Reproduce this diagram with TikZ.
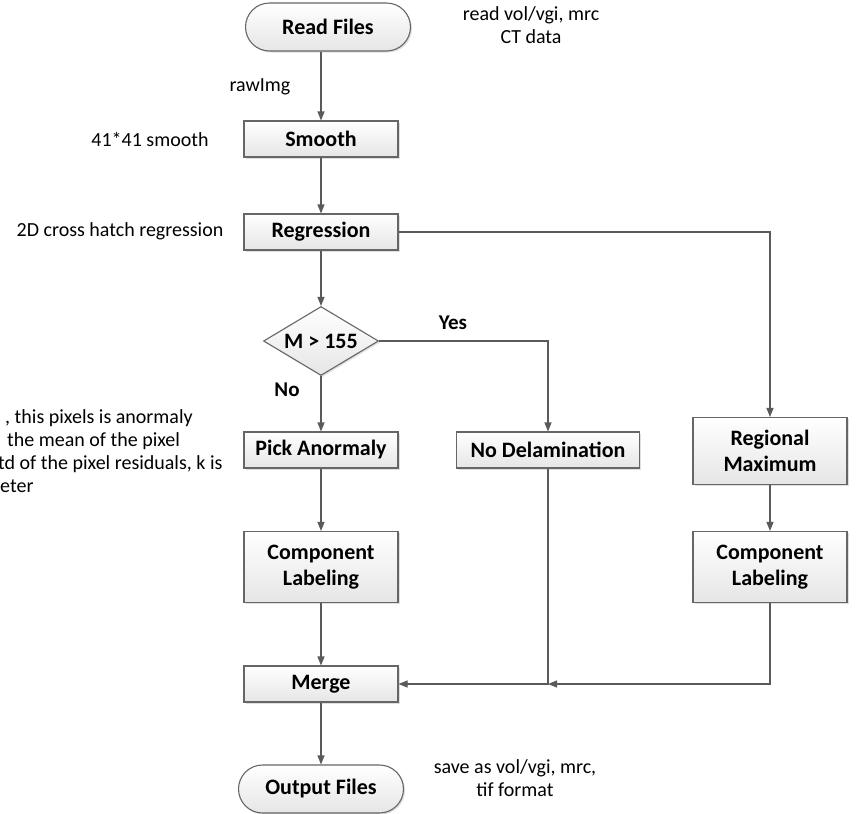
\documentclass[tikz,border=0pt]{standalone}
\usepackage{fontspec}
\setmainfont{Carlito}
\usetikzlibrary{arrows.meta,shapes.geometric,shapes.misc,shadows}
\definecolor{linegray}{HTML}{5A5A5A}
\definecolor{boxgray}{HTML}{666666}

\begin{document}
\begin{tikzpicture}[x=1pt,y=-1pt]
\tikzset{box/.style = {shape=rectangle,draw=boxgray,line width=1.1pt,top color=white,bottom color=black!10,
  minimum width=154pt,minimum height=36pt,inner sep=0pt,align=center,
  font=\fontsize{22}{26}\selectfont\bfseries,
  drop shadow={shadow xshift=1.5pt,shadow yshift=-1.5pt,fill=black!25,opacity=.5}}}
\tikzset{terminal/.style = {box,shape=rounded rectangle,minimum width=165pt,minimum height=48pt}}
\tikzset{decision/.style = {box,shape=diamond,aspect=1.67,minimum width=115pt,minimum height=69pt}}
\tikzset{note/.style = {inner sep=0pt,align=center,font=\fontsize{20}{23}\selectfont}}
\tikzset{answer/.style = {inner sep=0pt,font=\fontsize{21}{24}\selectfont\bfseries}}
\tikzset{edge/.style = {draw=linegray,line width=1.1pt,-{Triangle[length=9pt,width=7pt]}}}
\useasboundingbox (0,0) rectangle (857,814);
% steps
\node[terminal] (read) at (328,27) {Read Files};
\node[box] (smooth) at (321,139) {Smooth};
\node[box] (reg) at (321,232) {Regression};
\node[decision] (dec) at (321,341) {M > 155};
\node[box] (pick) at (321,450) {Pick Anormaly};
\node[box,minimum width=183pt] (nodel) at (548,450) {No Delamination};
\node[box,minimum height=67pt] (rmax) at (770,451) {Regional\\Maximum};
\node[box,minimum height=71pt] (cl1) at (321,567) {Component\\Labeling};
\node[box,minimum height=71pt] (cl2) at (770,567) {Component\\Labeling};
\node[box] (merge) at (321,684) {Merge};
\node[terminal] (out) at (321,789) {Output Files};
\coordinate (join) at (nodel |- merge);
% notes
\node[note] (readnote) at (531,25) {read vol/vgi, mrc\\CT data};
\node[note] (raw) at (260,87) {rawImg};
\node[note] (smnote) at (150,139) {41*41 smooth};
\node[note] (regnote) at (120,231) {2D cross hatch regression};
\node[note,anchor=north west,align=left] (pixnote) at (-2,409) {\hspace*{7pt}, this pixels is anormaly\\
  \hspace*{9pt}the mean of the pixel\\td of the pixel residuals, k is\\\hspace*{2pt}eter};
\node[note] (savenote) at (515,778) {save as vol/vgi, mrc,\\tif format};
\node[answer] (yes) at (453,323) {Yes};
\node[answer] (no) at (287,390) {No};
%edges
\draw[edge] (read.south -| smooth) to (smooth);
\draw[edge] (smooth) to (reg);
\draw[edge] (reg) to (dec);
\draw[edge] (reg) -| (rmax);
\draw[edge] (dec) to (pick);
\draw[edge] (dec) -| (nodel);
\draw[edge] (pick) to (cl1);
\draw[edge] (rmax) to (cl2);
\draw[edge] (cl1) to (merge);
\draw[edge] (nodel) |- (merge);
\draw[edge] (cl2) |- (join);
\draw[edge] (merge) to (out);
\end{tikzpicture}
\end{document}
